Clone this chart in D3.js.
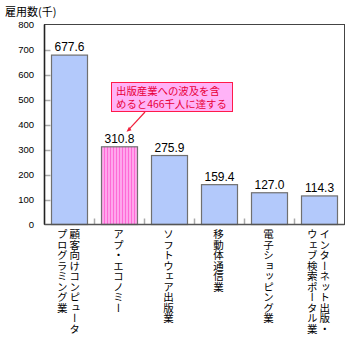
<!DOCTYPE html>
<html>
<head>
<meta charset="utf-8">
<script src="https://cdn.jsdelivr.net/npm/d3@7"></script>
<style>
  html, body { margin: 0; padding: 0; background: #fff; }
  svg { display: block; }
  text { font-family: "Noto Sans CJK JP", "Noto Sans", sans-serif; fill: #000; }
  .num { font-family: "Liberation Sans", Arial, sans-serif; }
</style>
</head>
<body>
<script>
// Employment by industry (thousands)
const categories = [
  ["顧客向けコンピュータ", "プログラミング業"],
  ["アプ・エコノミー"],
  ["ソフトウェア出版業"],
  ["移動体通信業"],
  ["電子ショッピング業"],
  ["インターネット出版・", "ウェブ検索ポータル業"]
];
const values = [677.6, 310.8, 275.9, 159.4, 127.0, 114.3];
const valueLabels = ["677.6", "310.8", "275.9", "159.4", "127.0", "114.3"];
const yTicks = [0, 100, 200, 300, 400, 500, 600, 700, 800];
const highlightIndex = 1;
const axisTitle = "雇用数(千)";
const calloutLines = ["出版産業への波及を含", "めると466千人に達する"];

const W = 351, H = 346;
const plot = { left: 44.5, right: 344.5, top: 24.5, bottom: 224.5 };

const svg = d3.select("body").append("svg").attr("width", W).attr("height", H);

// Vertical stripe pattern for the highlighted bar
const defs = svg.append("defs");
const pat = defs.append("pattern")
  .attr("id", "stripes").attr("patternUnits", "userSpaceOnUse")
  .attr("width", 3).attr("height", 10);
pat.append("rect").attr("width", 3).attr("height", 10).attr("fill", "#ffa6ec");
pat.append("rect").attr("x", 2).attr("width", 1).attr("height", 10).attr("fill", "#ff6ad6");

const idx = d3.range(categories.length);
const x = d3.scaleBand().domain(idx).range([plot.left, plot.right])
  .paddingInner(0.28).paddingOuter(0.14);
const y = d3.scaleLinear().domain([0, 800]).range([plot.bottom, plot.top]);

// Axis title
svg.append("text").attr("x", 5).attr("y", 16)
  .attr("font-size", 11).text(axisTitle);

// Y tick labels
svg.selectAll(".ytl").data(yTicks).enter().append("text")
  .attr("class", "num")
  .attr("x", 34).attr("y", d => y(d)).attr("dy", "0.35em")
  .attr("text-anchor", "end").attr("font-size", 9.5)
  .text(d => d);

// Inner y tick marks
svg.selectAll(".ytk").data(yTicks.slice(1, -1)).enter().append("line")
  .attr("x1", plot.left).attr("x2", plot.left + 6)
  .attr("y1", d => Math.round(y(d)) + 0.5).attr("y2", d => Math.round(y(d)) + 0.5)
  .attr("stroke", "#aaa").attr("stroke-width", 1.5);

// Inner x tick marks between categories
const step = x.step();
svg.selectAll(".xtk").data(idx.slice(1)).enter().append("line")
  .attr("x1", d => x(d) - step * x.paddingInner() / 2)
  .attr("x2", d => x(d) - step * x.paddingInner() / 2)
  .attr("y1", plot.bottom).attr("y2", plot.bottom - 6)
  .attr("stroke", "#aaa").attr("stroke-width", 1.5);

// Bars
svg.selectAll(".bar").data(idx).enter().append("rect")
  .attr("x", d => x(d)).attr("width", x.bandwidth())
  .attr("y", d => y(values[d])).attr("height", d => plot.bottom - y(values[d]))
  .attr("fill", d => d === highlightIndex ? "url(#stripes)" : "#b3c9fb")
  .attr("stroke", "#707070").attr("stroke-width", 1.2);

// Value labels
svg.selectAll(".val").data(idx).enter().append("text")
  .attr("class", "num")
  .attr("x", d => x(d) + x.bandwidth() / 2).attr("y", d => y(values[d]) - 4)
  .attr("text-anchor", "middle").attr("font-size", 12)
  .text(d => valueLabels[d]);

// Frame
svg.append("rect")
  .attr("x", plot.left).attr("y", plot.top)
  .attr("width", plot.right - plot.left).attr("height", plot.bottom - plot.top)
  .attr("fill", "none").attr("stroke", "#444").attr("stroke-width", 1);
svg.append("line").attr("x1", plot.left).attr("x2", plot.left)
  .attr("y1", plot.top).attr("y2", plot.bottom).attr("stroke", "#222").attr("stroke-width", 1.6);
svg.append("line").attr("x1", plot.left).attr("x2", plot.right)
  .attr("y1", plot.bottom).attr("y2", plot.bottom).attr("stroke", "#555").attr("stroke-width", 1.6);

// Vertical category labels (right column first)
idx.forEach(i => {
  const cx = x(i) + x.bandwidth() / 2 - 1;
  const cols = categories[i];
  const gap = 12.5;
  cols.forEach((line, j) => {
    const colX = cx + ((cols.length - 1) / 2 - j) * gap;
    svg.append("text")
      .attr("x", colX).attr("y", 229)
      .attr("font-size", 10.5)
      .style("writing-mode", "vertical-rl")
      .style("text-orientation", "mixed")
      .text(line);
  });
});

// Callout box with a two-line note and a pointer to the highlighted bar
const box = { x: 111, y: 82, w: 121, h: 29 };
svg.append("rect").attr("x", box.x + 0.5).attr("y", box.y + 0.5)
  .attr("width", box.w).attr("height", box.h)
  .attr("fill", "#ffb3f7").attr("stroke", "#ff1a4a").attr("stroke-width", 1);
const note = svg.append("text").attr("font-size", 10.4).style("fill", "#e8003a");
calloutLines.forEach((t, k) => {
  note.append("tspan").attr("x", box.x + 5).attr("y", box.y + 13 + k * 12.5).text(t);
});
const tip = { x: x(highlightIndex) + x.bandwidth() / 2 + 8, y: y(values[highlightIndex]) - 16 };
svg.append("line")
  .attr("x1", box.x + 34).attr("y1", box.y + box.h + 1)
  .attr("x2", tip.x + 1).attr("y2", tip.y - 1)
  .attr("stroke", "#f0203c").attr("stroke-width", 1.2);
svg.append("path")
  .attr("d", `M${tip.x - 1},${tip.y + 1} l5,-1.5 l-2.5,-3.5 z`)
  .attr("fill", "#f0203c");
</script>
</body>
</html>
